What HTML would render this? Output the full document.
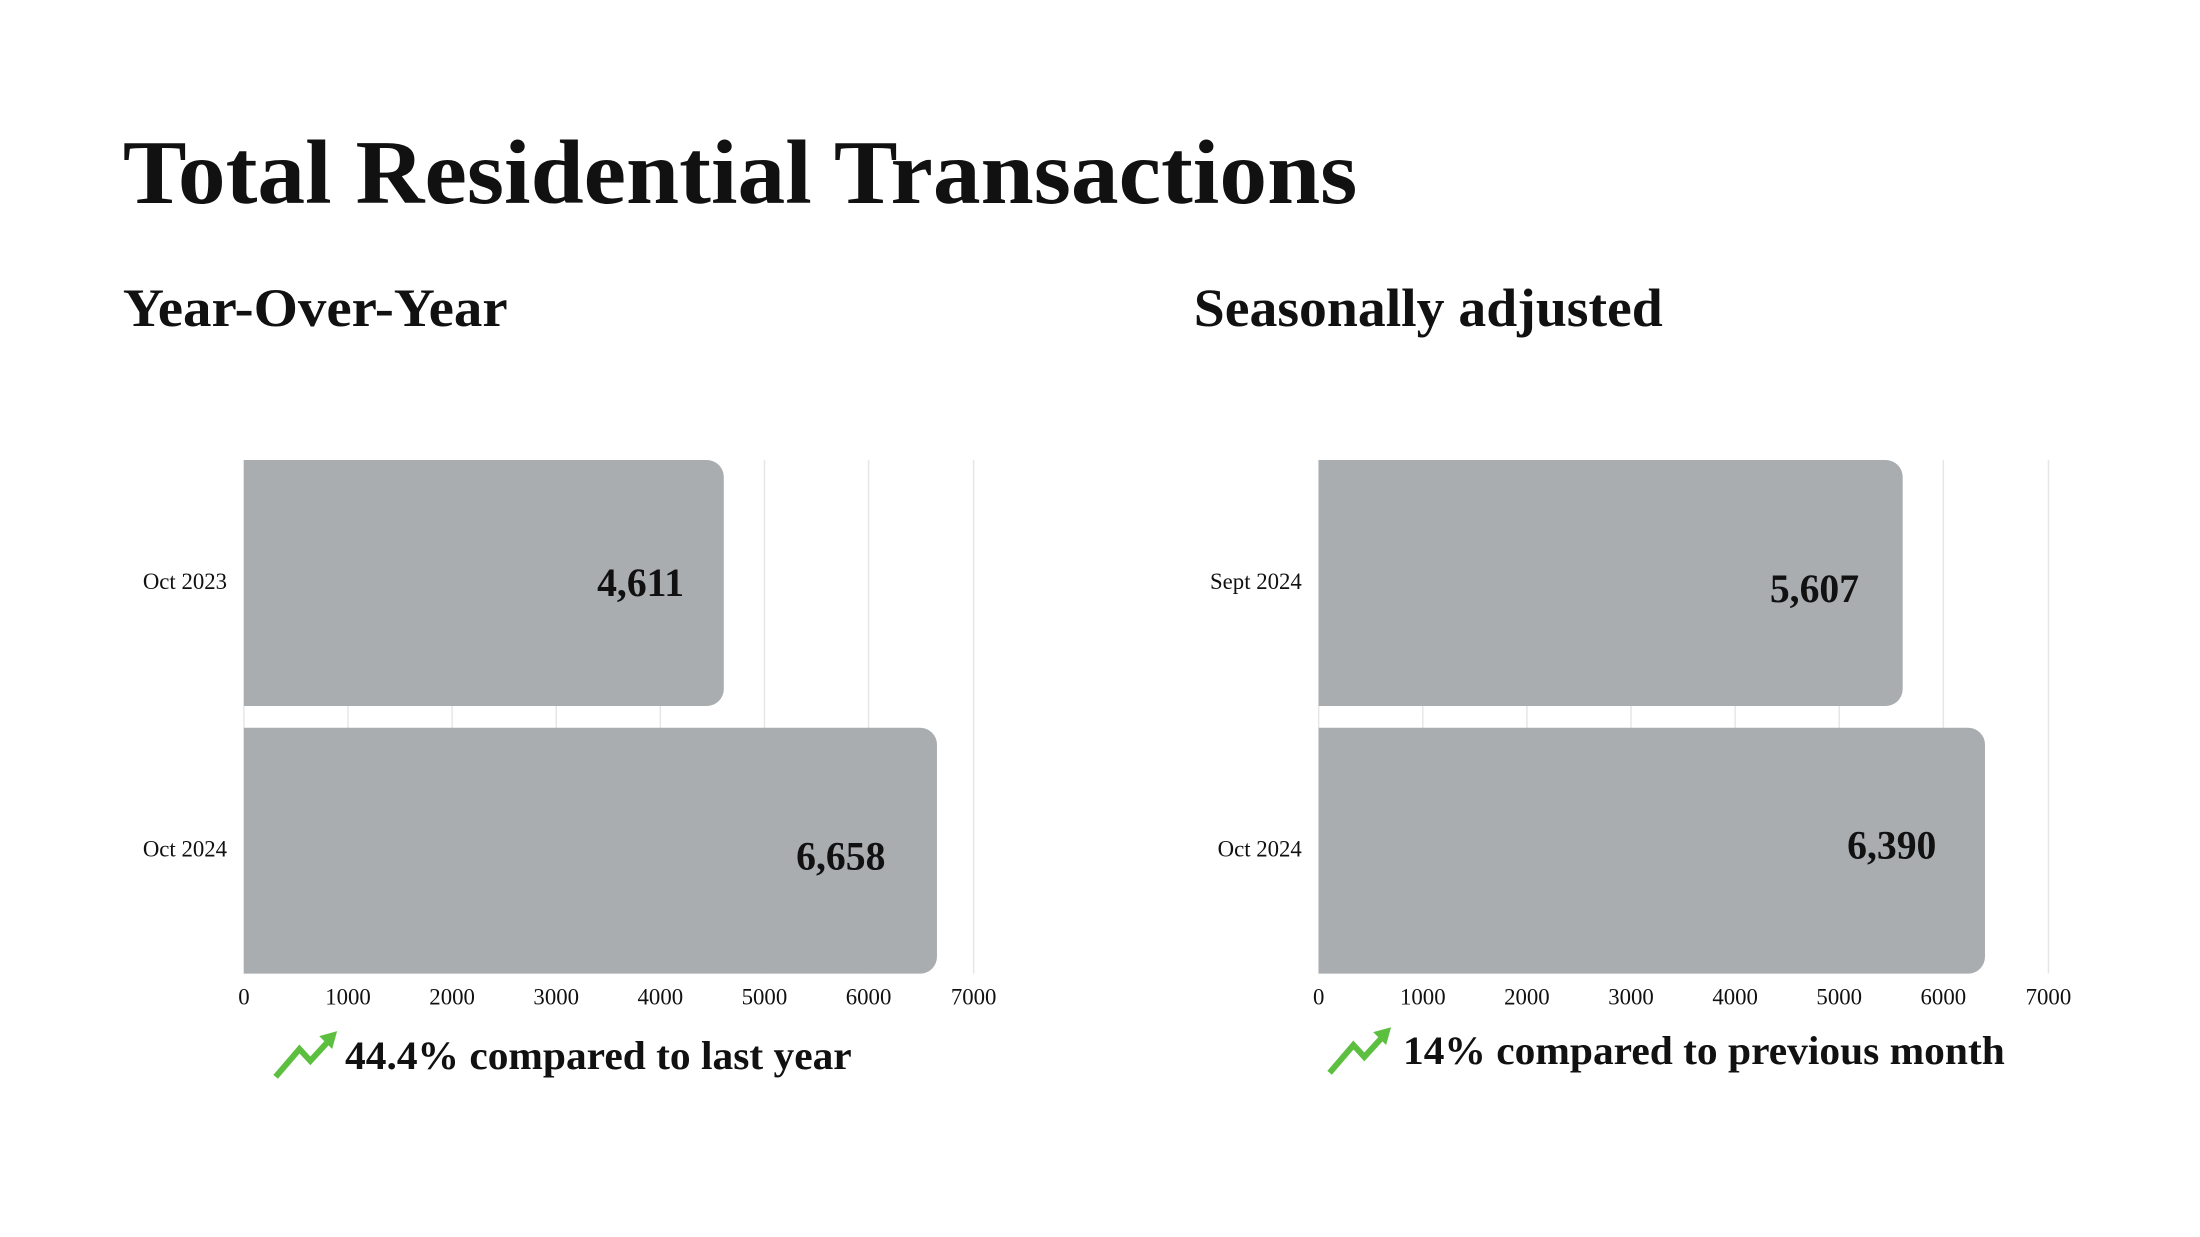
<!DOCTYPE html>
<html><head><meta charset="utf-8"><style>html,body{margin:0;padding:0;background:#fff}svg{display:block}</style></head>
<body>
<svg width="2200" height="1237" viewBox="0 0 2200 1237" xmlns="http://www.w3.org/2000/svg" font-family="'Liberation Serif', serif">
<rect width="2200" height="1237" fill="#fff"/>
<g transform="scale(0.9915)">
<text x="124" y="205" font-size="92" font-weight="bold" textLength="1245" lengthAdjust="spacingAndGlyphs" fill="#111">Total Residential Transactions</text>
<text x="124" y="329" font-size="54" font-weight="bold" textLength="388" lengthAdjust="spacingAndGlyphs" fill="#111">Year-Over-Year</text>
<text x="1204" y="329" font-size="54" font-weight="bold" textLength="473" lengthAdjust="spacingAndGlyphs" fill="#111">Seasonally adjusted</text>

<g stroke="#e6e6e6" stroke-width="1.5">
<line x1="351" y1="464" x2="351" y2="982"/><line x1="456" y1="464" x2="456" y2="982"/><line x1="561" y1="464" x2="561" y2="982"/><line x1="666" y1="464" x2="666" y2="982"/><line x1="771" y1="464" x2="771" y2="982"/><line x1="876" y1="464" x2="876" y2="982"/><line x1="982" y1="464" x2="982" y2="982"/>
<line x1="1435" y1="464" x2="1435" y2="982"/><line x1="1540" y1="464" x2="1540" y2="982"/><line x1="1645" y1="464" x2="1645" y2="982"/><line x1="1750" y1="464" x2="1750" y2="982"/><line x1="1855" y1="464" x2="1855" y2="982"/><line x1="1960" y1="464" x2="1960" y2="982"/><line x1="2066" y1="464" x2="2066" y2="982"/>
<line x1="246" y1="464" x2="246" y2="982"/><line x1="1330" y1="464" x2="1330" y2="982"/>
</g>
<path d="M246 464 H713 a17 17 0 0 1 17 17 V695 a17 17 0 0 1 -17 17 H246 Z" fill="#a9adb0"/>
<path d="M246 734 H928 a17 17 0 0 1 17 17 V965 a17 17 0 0 1 -17 17 H246 Z" fill="#a9adb0"/>
<path d="M1330 464 H1902 a17 17 0 0 1 17 17 V695 a17 17 0 0 1 -17 17 H1330 Z" fill="#a9adb0"/>
<path d="M1330 734 H1985 a17 17 0 0 1 17 17 V965 a17 17 0 0 1 -17 17 H1330 Z" fill="#a9adb0"/>

<g font-size="23" fill="#111" text-anchor="end">
<text x="229" y="594">Oct 2023</text>
<text x="229" y="864">Oct 2024</text>
<text x="1313" y="594">Sept 2024</text>
<text x="1313" y="864">Oct 2024</text>
</g>
<g font-size="40" font-weight="bold" fill="#111" text-anchor="end">
<text x="690" y="601">4,611</text>
<text x="893" y="877">6,658</text>
<text x="1875" y="607">5,607</text>
<text x="1953" y="866">6,390</text>
</g>
<g font-size="23" fill="#111" text-anchor="middle">
<text x="246" y="1013">0</text><text x="351" y="1013">1000</text><text x="456" y="1013">2000</text><text x="561" y="1013">3000</text><text x="666" y="1013">4000</text><text x="771" y="1013">5000</text><text x="876" y="1013">6000</text><text x="982" y="1013">7000</text>
<text x="1330" y="1013">0</text><text x="1435" y="1013">1000</text><text x="1540" y="1013">2000</text><text x="1645" y="1013">3000</text><text x="1750" y="1013">4000</text><text x="1855" y="1013">5000</text><text x="1960" y="1013">6000</text><text x="2066" y="1013">7000</text>
</g>

<g fill="none" stroke="#5cbf3f" stroke-width="6" stroke-linejoin="miter">
<polyline points="278,1086 302,1058 313,1070 334,1047"/>
<polyline points="1341,1082 1365,1054 1376,1066 1397,1043"/>
</g>
<polygon points="340,1040 322,1045 335,1058" fill="#5cbf3f"/>
<polygon points="1403,1036 1385,1041 1398,1054" fill="#5cbf3f"/>

<g font-size="40" font-weight="bold" fill="#111">
<text x="348" y="1078" textLength="511" lengthAdjust="spacingAndGlyphs">44.4% compared to last year</text>
<text x="1415" y="1073" textLength="607" lengthAdjust="spacingAndGlyphs">14% compared to previous month</text>
</g>
</g>
</svg>
</body></html>
